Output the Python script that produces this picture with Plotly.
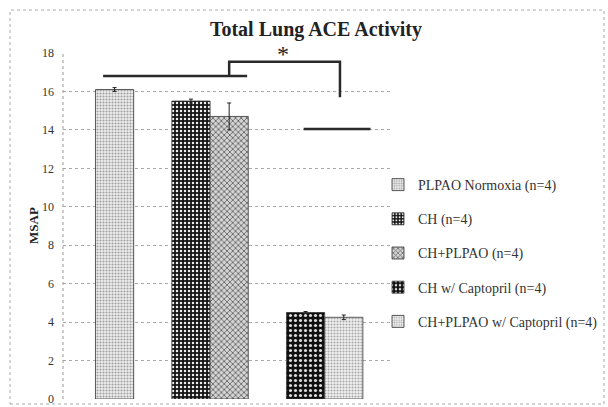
import plotly.graph_objects as go

# ---- data ----
groups = ["PLPAO Normoxia (n=4)", "CH (n=4)", "CH+PLPAO (n=4)",
          "CH w/ Captopril (n=4)", "CH+PLPAO w/ Captopril (n=4)"]
msap = [16.1, 15.5, 14.7, 4.5, 4.25]
sem = [0.1, 0.1, 0.7, 0.05, 0.12]
bar_slot = [0, 2, 3, 5, 6]
y_ticks = [0, 2, 4, 6, 8, 10, 12, 14, 16, 18]

# ---- styling ----
W, H = 608, 407
ML, MR, MT, MB = 63, 218, 53, 8
FONT = "'Liberation Serif', 'Times New Roman', Times, serif"
TXT = "#333333"

patterns = [
    dict(shape=".", bgcolor="#eeeeee", fgcolor="#a0a0a0", size=3, solidity=0.4, fillmode="replace"),
    dict(shape=".", bgcolor="#151515", fgcolor="#eeeeee", size=4, solidity=0.3, fillmode="replace"),
    dict(shape="x", bgcolor="#d4d4d4", fgcolor="#555555", size=4, solidity=0.35, fillmode="replace"),
    dict(shape=".", bgcolor="#101010", fgcolor="#dddddd", size=5, solidity=0.3, fillmode="replace"),
    dict(shape=".", bgcolor="#f2f2f2", fgcolor="#a8a8a8", size=3, solidity=0.4, fillmode="replace"),
]

fig = go.Figure()
for i, name in enumerate(groups):
    fig.add_trace(go.Bar(
        x=[bar_slot[i]], y=[msap[i]], name=name, width=1.0,
        marker=dict(pattern=patterns[i], line=dict(color="#333333", width=0.8)),
        error_y=dict(type="data", array=[sem[i]], color="#222222", thickness=1, width=2),
        legendgroup=str(i),
    ))

# significance markings
line_style = dict(color="#2a2a2a", width=2.5)
fig.add_shape(type="line", x0=-0.3, x1=3.47, y0=16.8, y1=16.8, line=line_style)
fig.add_shape(type="path", path="M 3.0 16.8 L 3.0 17.55 L 5.9 17.55 L 5.9 15.7",
              line=line_style)
fig.add_shape(type="line", x0=4.95, x1=6.7, y0=14.05, y1=14.05, line=line_style)
fig.add_annotation(x=4.42, y=17.95, text="*", showarrow=False, yanchor="middle",
                   font=dict(family=FONT, size=24, color="#222222"))

pw = W - ML - MR
ph = H - MT - MB

# y axis title
fig.add_annotation(xref="paper", yref="paper", x=(33 - ML) / pw, y=0.5,
                   text="<b>MSAP</b>", textangle=-90, showarrow=False,
                   xanchor="center", yanchor="middle",
                   font=dict(family=FONT, size=13, color="#222222"))

# dotted y axis line
fig.add_shape(type="line", xref="paper", yref="paper", x0=0, x1=0, y0=0, y1=1,
              line=dict(color="#999999", width=1, dash="dot"))

# outer dotted frame
fig.add_shape(type="rect", xref="paper", yref="paper",
              x0=(10 - ML) / pw, x1=(604 - ML) / pw,
              y0=-(404 - (H - MB)) / ph, y1=((H - MB) - 10) / ph,
              line=dict(color="#aaaaaa", width=1, dash="dot"))

fig.update_layout(
    width=W, height=H,
    margin=dict(l=ML, r=MR, t=MT, b=MB, pad=0, autoexpand=False),
    paper_bgcolor="white", plot_bgcolor="white",
    barmode="overlay",
    title=dict(text="<b>Total Lung ACE Activity</b>", x=316 / W, xanchor="center",
               y=1 - 29 / H, yanchor="middle",
               font=dict(family=FONT, size=20, color="#222222")),
    font=dict(family=FONT, color=TXT),
    showlegend=True,
    legend=dict(x=(378 - ML) / pw, xanchor="left", y=(H - MB - 169) / ph, yanchor="top",
                font=dict(family=FONT, size=14, color=TXT),
                tracegroupgap=13, itemwidth=30, bgcolor="rgba(0,0,0,0)"),
)
fig.update_xaxes(range=[-1.35, 7.21], showticklabels=False, showgrid=False,
                 zeroline=False, showline=False, automargin=False)
fig.update_yaxes(range=[0, 18], tickvals=y_ticks, showgrid=True, gridcolor="#aaaaaa",
                 griddash="dot", gridwidth=1, zeroline=False, showline=False, automargin=False,
                 ticks="", ticklabelstandoff=8, tickfont=dict(family=FONT, size=12, color=TXT))

fig.write_html("out.html")
